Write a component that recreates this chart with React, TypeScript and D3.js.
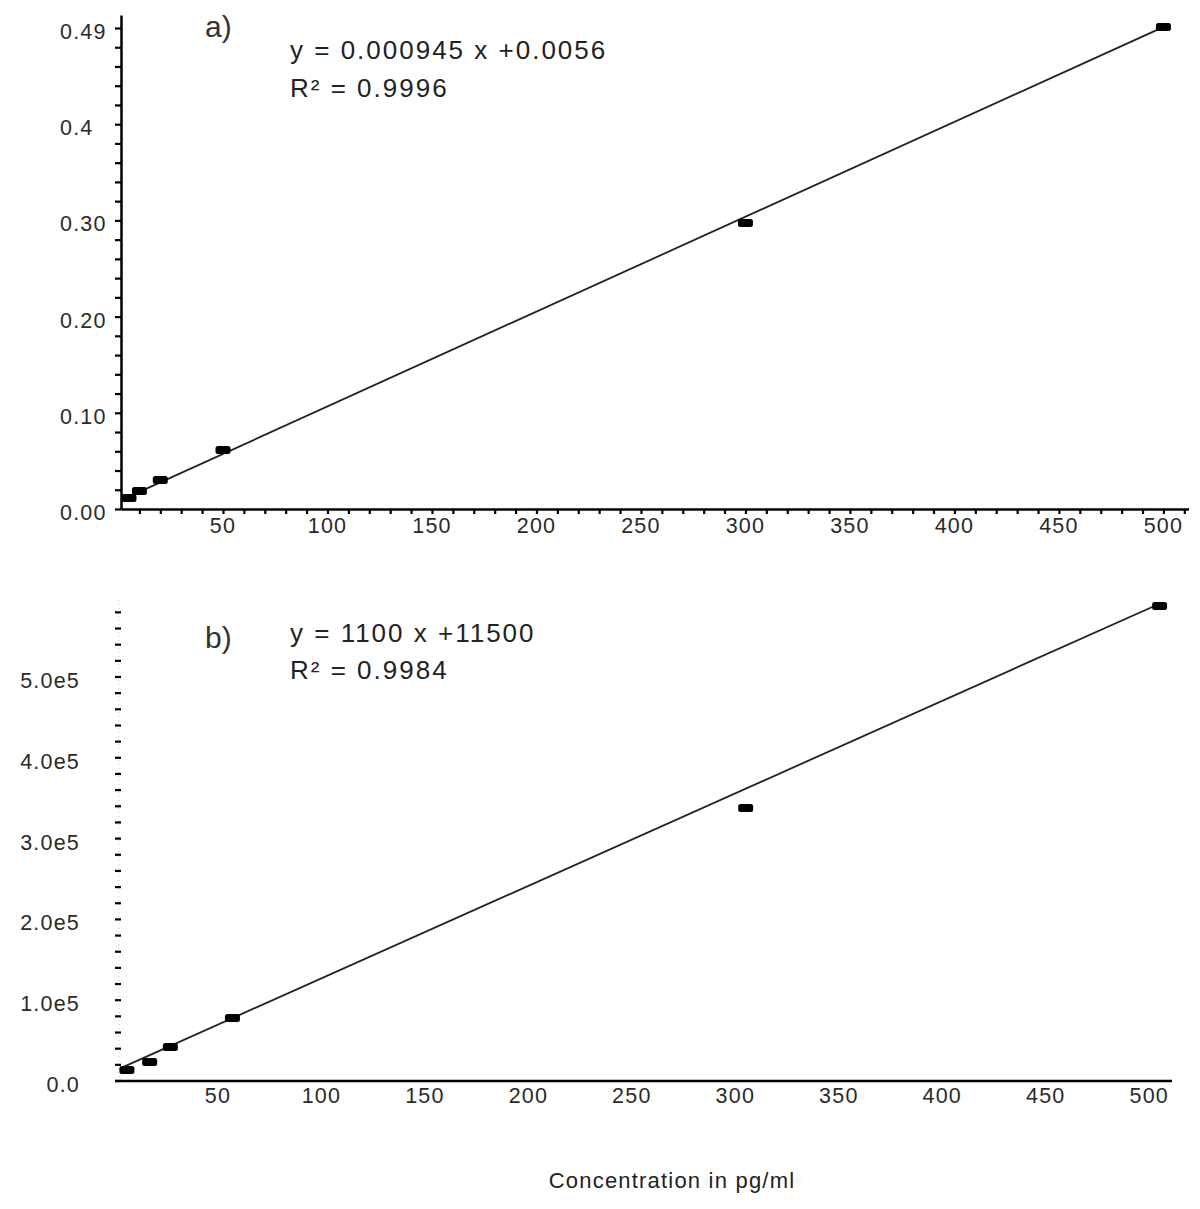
import React, { useEffect, useRef } from 'react';
import * as d3 from 'd3';

// panel a) calibration points (concentration pg/ml, ratio)
const concA = [5, 10, 20, 50, 300, 500];
const valuesA = [0.0114, 0.0187, 0.0301, 0.0613, 0.2973, 0.501];
const fitA = { slope: 0.000986, intercept: 0.008, from: 1, to: 502 };
const yTicksA = [0, 0.1, 0.2, 0.3, 0.4, 0.5];
const yLabelsA = ['0.00', '0.10', '0.20', '0.30', '0.4', '0.49'];

// panel b) calibration points (concentration pg/ml, area)
const concB = [6, 17, 27, 57, 305, 505];
const valuesB = [13600, 23500, 42100, 78000, 337900, 587900];
const fitB = { slope: 1145, intercept: 12540, from: 3, to: 505.5 };
const yTicksB = [0, 100000, 200000, 300000, 400000, 500000];
const yLabelsB = ['0.0', '1.0e5', '2.0e5', '3.0e5', '4.0e5', '5.0e5'];

const xTicks = [50, 100, 150, 200, 250, 300, 350, 400, 450, 500];

const equationA = ['y = 0.000945 x +0.0056', 'R² = 0.9996'];
const equationB = ['y = 1100 x +11500', 'R² = 0.9984'];
const xTitle = 'Concentration in pg/ml';

const FONT = '"Liberation Sans", Arial, sans-serif';

function App() {
  const svgRef = useRef<SVGSVGElement>(null);

  useEffect(() => {
    const svg = d3.select(svgRef.current);
    svg.selectAll('*').remove();

    const tickText = (g: any) =>
      g.attr('font-family', FONT).attr('font-size', 21.5).attr('fill', '#2a2a2a')
        .attr('letter-spacing', 1.2);

    // ---------- panel a ----------
    const xA = d3.scaleLinear().domain([1.2, 512]).range([121, 1188.5]);
    const yA = d3.scaleLinear().domain([0, 0.5135]).range([509, 15]);

    const gA = svg.append('g');

    // y axis with minor ticks every 0.02
    gA.append('g')
      .attr('transform', 'translate(121,0)')
      .call(d3.axisLeft(yA).tickValues(d3.range(0, 0.5135, 0.02)).tickSize(6).tickFormat(() => '').tickSizeOuter(0))
      .call(g => g.select('.domain').attr('stroke-width', 2.5))
      .call(g => g.selectAll('.tick line').attr('stroke-width', 2.2));

    // x axis with minor ticks every 10
    gA.append('g')
      .attr('transform', 'translate(0,509)')
      .call(d3.axisBottom(xA).tickValues(d3.range(10, 511, 10)).tickSize(5).tickFormat(() => '').tickSizeOuter(0))
      .call(g => g.select('.domain').attr('stroke-width', 2.5))
      .call(g => g.selectAll('.tick line').attr('stroke-width', 2.2));

    gA.append('g').call(tickText)
      .selectAll('text').data(yTicksA).join('text')
      .attr('x', 60).attr('y', d => yA(d) + 4)
      .attr('dominant-baseline', 'central')
      .text((d, i) => yLabelsA[i]);

    gA.append('g').call(tickText)
      .selectAll('text').data(xTicks).join('text')
      .attr('x', d => xA(d)).attr('y', 533)
      .attr('text-anchor', 'middle')
      .text(d => d);

    gA.append('line')
      .attr('x1', xA(fitA.from)).attr('y1', yA(fitA.intercept + fitA.slope * fitA.from))
      .attr('x2', xA(fitA.to)).attr('y2', yA(fitA.intercept + fitA.slope * fitA.to))
      .attr('stroke', '#222').attr('stroke-width', 1.8);

    gA.append('g').selectAll('rect').data(concA).join('rect')
      .attr('x', d => xA(d) - 7.5).attr('y', (d, i) => yA(valuesA[i]) - 4)
      .attr('width', 15).attr('height', 8).attr('rx', 2.5).attr('fill', '#000');

    gA.append('text').attr('x', 205).attr('y', 37)
      .attr('font-family', FONT).attr('font-size', 30).attr('fill', '#333').text('a)');
    gA.append('g').attr('font-family', FONT).attr('font-size', 26).attr('fill', '#222')
      .attr('letter-spacing', 2)
      .selectAll('text').data(equationA).join('text')
      .attr('x', 290).attr('y', (d, i) => 59 + i * 38).text(d => d);

    // ---------- panel b ----------
    const xB = d3.scaleLinear().domain([0.25, 511]).range([115, 1172]);
    const yB = d3.scaleLinear().domain([0, 595300]).range([1081, 600]);

    const gB = svg.append('g');

    // y axis: only ticks, faint dotted spine
    gB.append('line')
      .attr('x1', 119).attr('x2', 119).attr('y1', 600).attr('y2', 1081)
      .attr('stroke', '#ccc').attr('stroke-width', 1).attr('stroke-dasharray', '1,3');
    gB.append('g').selectAll('line').data(d3.range(0, 595300, 20000)).join('line')
      .attr('x1', 115).attr('x2', 121)
      .attr('y1', d => yB(d)).attr('y2', d => yB(d))
      .attr('stroke', '#000').attr('stroke-width', 2.2);

    gB.append('line')
      .attr('x1', xB.range()[0]).attr('x2', xB.range()[1]).attr('y1', 1081).attr('y2', 1081)
      .attr('stroke', '#000').attr('stroke-width', 2.5);

    gB.append('g').call(tickText)
      .selectAll('text').data(yTicksB).join('text')
      .attr('x', 80).attr('y', d => yB(d) + 4)
      .attr('text-anchor', 'end')
      .attr('dominant-baseline', 'central')
      .text((d, i) => yLabelsB[i]);

    gB.append('g').call(tickText)
      .selectAll('text').data(xTicks).join('text')
      .attr('x', d => xB(d)).attr('y', 1103)
      .attr('text-anchor', 'middle')
      .text(d => d);

    gB.append('line')
      .attr('x1', xB(fitB.from)).attr('y1', yB(fitB.intercept + fitB.slope * fitB.from))
      .attr('x2', xB(fitB.to)).attr('y2', yB(fitB.intercept + fitB.slope * fitB.to))
      .attr('stroke', '#222').attr('stroke-width', 1.8);

    gB.append('g').selectAll('rect').data(concB).join('rect')
      .attr('x', d => xB(d) - 7.5).attr('y', (d, i) => yB(valuesB[i]) - 4)
      .attr('width', 15).attr('height', 8).attr('rx', 2.5).attr('fill', '#000');

    gB.append('text').attr('x', 205).attr('y', 648)
      .attr('font-family', FONT).attr('font-size', 30).attr('fill', '#333').text('b)');
    gB.append('g').attr('font-family', FONT).attr('font-size', 26).attr('fill', '#222')
      .attr('letter-spacing', 2)
      .selectAll('text').data(equationB).join('text')
      .attr('x', 290).attr('y', (d, i) => 642 + i * 37).text(d => d);

    svg.append('text')
      .attr('x', 672).attr('y', 1188)
      .attr('text-anchor', 'middle')
      .attr('font-family', FONT).attr('font-size', 22).attr('letter-spacing', 1.2)
      .attr('fill', '#222')
      .text(xTitle);
  }, []);

  return (
    <svg ref={svgRef} width={1200} height={1209}
      style={{ position: 'absolute', left: 0, top: 0, background: '#fff' }} />
  );
}

export default App;
